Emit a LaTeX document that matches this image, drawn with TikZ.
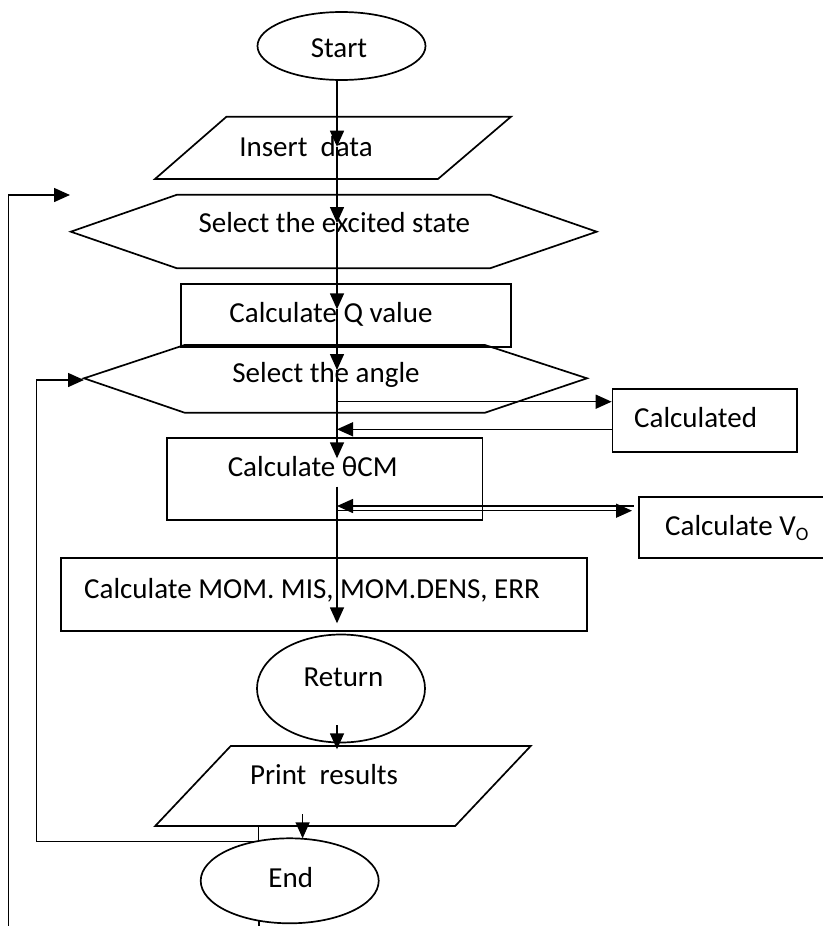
\documentclass[tikz,border=0pt]{standalone}
\usepackage{fontspec}
\setmainfont{Carlito}
\usetikzlibrary{shapes.geometric,arrows.meta}
\begin{document}
\begin{tikzpicture}[x=1pt,y=-1pt,
  shp/.style={draw,line width=1.7pt,inner sep=0pt},
  lbl/.style={anchor=base,inner sep=0pt,font=\fontsize{29}{34}\selectfont},
  con/.style={line width=1.5pt},
  arr/.style={line width=1.5pt,-{Triangle[length=16pt,width=14pt]}}]
\useasboundingbox (0,0) rectangle (822,926);
% shapes
\node[shp,ellipse,minimum width=168pt,minimum height=68pt] (start) at (341.5,46) {};
\draw[shp] (226.5,116.7) -- (511,116.7) -- (438,179) -- (155,179) -- cycle;
\coordinate (ins) at (333,148);
\draw[shp] (70.8,231.7) -- (177,194.7) -- (490,194.7) -- (596.7,231.7) -- (490,268.3) -- (177,268.3) -- cycle;
\coordinate (exc) at (333,231.7);
\node[shp,rectangle,minimum width=330pt,minimum height=62.4pt] (qval) at (346,315.5) {};
\draw[shp] (84,378.3) -- (184.6,345) -- (485,345) -- (587,378.3) -- (485,412.7) -- (184.6,412.7) -- cycle;
\coordinate (ang) at (335,378.3);
\node[shp,rectangle,minimum width=184.5pt,minimum height=62.7pt] (calcd) at (704.75,420.35) {};
\node[shp,rectangle,minimum width=315.6pt,minimum height=81.7pt] (theta) at (324.6,479.15) {};
\node[shp,rectangle,minimum width=186pt,minimum height=61pt] (vo) at (731.7,527.8) {};
\node[shp,rectangle,minimum width=526.2pt,minimum height=72.7pt] (mom) at (323.9,594.65) {};
\node[shp,ellipse,minimum width=168pt,minimum height=108pt] (ret) at (341,688.5) {};
\draw[shp] (230.7,746) -- (530.7,746) -- (455.2,826) -- (155.2,826) -- cycle;
\coordinate (prt) at (343,786);
\node[shp,ellipse,minimum width=178pt,minimum height=85pt] (end) at (289.7,880.8) {};
% texts
\node[lbl] (tstart) at (339,57.3) {Start};
\node[lbl] (tins) at (306,156) {Insert\ \ data};
\node[lbl] (texc) at (334.3,232) {Select the excited state};
\node[lbl] (tq) at (331,322.5) {Calculate Q value};
\node[lbl] (tang) at (326,382.7) {Select the angle};
\node[lbl] (tcalcd) at (695.6,427.3) {Calculated};
\node[lbl] (ttheta) at (312.7,476.7) {Calculate θCM};
\node[lbl,anchor=base west] (tvo) at (665,535.7) {Calculate V\raisebox{-5pt}{\fontsize{19}{20}\selectfont O}};
\node[lbl] (tmom) at (312,598.3) {Calculate MOM. MIS, MOM.DENS, ERR};
\node[lbl] (tret) at (343.4,686.7) {Return};
\node[lbl] (tprt) at (324,784.3) {Print\ \ results};
\node[lbl] (tend) at (290.7,887.3) {End};
% main line coordinates
\coordinate (m0) at (337,80);
\coordinate (m1) at (337,146.7);
\coordinate (m2) at (337,223);
\coordinate (m3) at (337,309.3);
\coordinate (m4) at (337,370);
\coordinate (m5) at (337,458.3);
\coordinate (m6) at (337,486.7);
\coordinate (m7) at (337,623.3);
\draw[arr] (m0) -- (m1);
\draw[arr] (m1) -- (m2);
\draw[arr] (m2) -- (m3);
\draw[arr] (m3) -- (m4);
\draw[arr] (m4) -- (m5);
\draw[arr] (m6) -- (m7);
% side branches
\coordinate (a1) at (337,401.7);
\draw[arr] (a1) -- (a1 -| calcd.west);
\coordinate (a2) at (337,429.3);
\draw[arr] (a2 -| calcd.west) -- (a2);
\coordinate (b1) at (337,506);
\draw[arr] (633.5,506) -- (b1);
\coordinate (b2) at (337,510.7);
\coordinate (b2e) at (632,510.7);
\draw[arr] (b2) -- (b2e);
% return -> print -> end
\coordinate (r1) at (337,725);
\coordinate (r2) at (337,749.3);
\draw[arr] (r1) -- (r2);
\coordinate (p1) at (302.6,814);
\coordinate (p2) at (302.6,838.3);
\draw[arr] (p1) -- (p2);
% feedback loops
\coordinate (f2a) at (258.5,826);
\coordinate (f2b) at (36.7,841.7);
\coordinate (f2c) at (84,380);
\draw[arr] (f2a) -- (f2a |- f2b) -- (f2b) -- (f2b |- f2c) -- (f2c);
\coordinate (f1a) at (8.4,927);
\coordinate (f1b) at (70,195);
\draw[arr] (f1a) -- (f1a |- f1b) -- (f1b);
\coordinate (t1) at (259,921);
\draw[con] (t1) -- (259,927);
\end{tikzpicture}
\end{document}
